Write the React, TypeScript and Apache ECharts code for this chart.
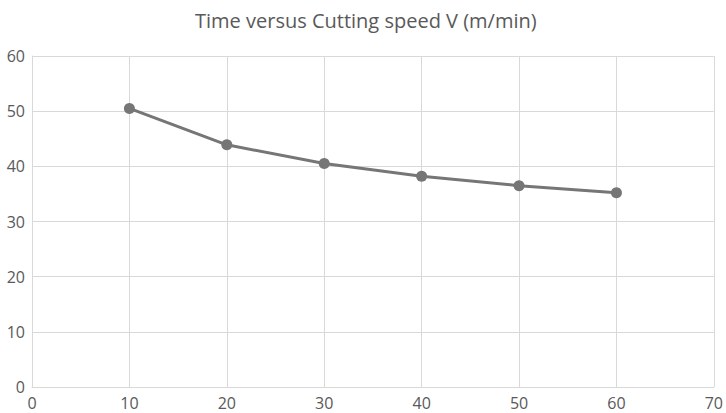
import React, { useEffect, useRef } from "react";
import * as echarts from "echarts";

const speeds = [10, 20, 30, 40, 50, 60];
const times = [50.5, 43.9, 40.5, 38.2, 36.5, 35.2];
const titleText = "Time versus Cutting speed V (m/min)";

export default function App() {
  const ref = useRef<HTMLDivElement>(null);
  useEffect(() => {
    if (!ref.current) return;
    const chart = echarts.init(ref.current, undefined, { renderer: "svg" });
    const font = "'Open Sans', 'Noto Sans', sans-serif";
    chart.setOption({
      animation: false,
      backgroundColor: "#ffffff",
      title: {
        text: titleText,
        left: 190,
        top: 5,
        textStyle: { color: "#595959", fontSize: 20, fontWeight: "normal", fontFamily: font },
      },
      grid: { left: 32, right: 11, top: 56, bottom: 26, containLabel: false },
      xAxis: {
        type: "value",
        min: 0,
        max: 70,
        interval: 10,
        axisLine: { show: true, lineStyle: { color: "#d9d9d9", width: 1 } },
        axisTick: { show: false },
        splitLine: { show: true, lineStyle: { color: "#d9d9d9", width: 1 } },
        axisLabel: { color: "#595959", fontSize: 16, fontFamily: font, margin: 8 },
      },
      yAxis: {
        type: "value",
        min: 0,
        max: 60,
        interval: 10,
        axisLine: { show: true, lineStyle: { color: "#d9d9d9", width: 1 } },
        axisTick: { show: false },
        splitLine: { show: true, lineStyle: { color: "#d9d9d9", width: 1 } },
        axisLabel: { color: "#595959", fontSize: 16, fontFamily: font, margin: 7 },
      },
      series: [
        {
          type: "line",
          data: speeds.map((s, i) => [s, times[i]]),
          symbol: "circle",
          symbolSize: 11,
          lineStyle: { color: "#767676", width: 3 },
          itemStyle: { color: "#767676" },
        },
      ],
    });
    return () => chart.dispose();
  }, []);
  return (
    <div
      ref={ref}
      style={{ position: "fixed", left: 0, top: 0, width: 726, height: 413 }}
    />
  );
}
